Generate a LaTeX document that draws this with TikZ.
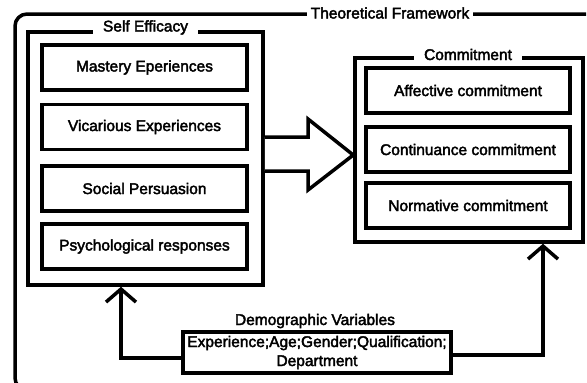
\documentclass[tikz,border=0pt]{standalone}
\usepackage{fontspec}
\setmainfont{Liberation Sans}[BoldFont=Liberation Sans, BoldFeatures={FakeBold=2.5}]
\usetikzlibrary{arrows.meta}

\tikzset{
  txt/.style={font=\fontsize{15.5}{18}\selectfont\bfseries},
  itembox/.style={draw, line width=3.5pt, minimum width=205pt, minimum height=45pt,
                  txt, inner sep=0pt},
  title/.style={fill=white, anchor=base, txt, inner sep=0pt},
  link/.style={line width=3.5pt, line join=miter,
               -{Straight Barb[length=13pt,width=30pt,line width=3.5pt]}},
}

\begin{document}
\begin{tikzpicture}[x=1pt,y=-1pt]
  \useasboundingbox (0,0) rectangle (587,383);

  % outer framework border
  \draw[line width=3.5pt, rounded corners=12pt] (586,14) -- (15,14) -- (15,390) -- (60,390);
  \node[title, inner xsep=4pt] (tf) at (390,18.5) {Theoretical Framework};

  % self efficacy group
  \node[draw, line width=3.5pt, minimum width=235pt, minimum height=253pt] (se) at (145.5,158.5) {};
  \node[title, inner xsep=10pt] (setitle) at (se.north |- 0,31.5) {Self Efficacy};
  \node[itembox] (mastery)   at (144.5,67.5)  {Mastery Eperiences};
  \node[itembox] (vicarious) at (144.5,127)   {Vicarious Experiences};
  \node[itembox] (social)    at (144.5,188.5) {Social Persuasion};
  \node[itembox] (psych)     at (144.5,246.5) {Psychological responses};

  % commitment group
  \node[draw, line width=3.5pt, minimum width=228pt, minimum height=184pt] (com) at (469,150) {};
  \node[title, inner xsep=10pt] (comtitle) at (468,60) {Commitment};
  \node[itembox, minimum width=204pt] (affective)   at (468,90.5)  {Affective commitment};
  \node[itembox, minimum width=204pt] (continuance) at (468,149.5) {Continuance commitment};
  \node[itembox, minimum width=204pt] (normative)   at (468,205.5) {Normative commitment};

  % block arrow from self efficacy to commitment
  \coordinate (tip) at (com.west |- 0,155);
  \draw[line width=3.5pt, line join=miter, fill=white]
    (se.east |- 0,137) -- (308,137) -- (308,119) -- (tip)
    -- (308,190) -- (308,171) -- (se.east |- 0,171);

  % demographic variables
  \node[txt, anchor=base] (demotitle) at (315,325) {Demographic Variables};
  \node[draw, line width=3.5pt, minimum width=268pt, minimum height=41pt, inner sep=0pt,
        align=center, txt, font=\fontsize{15.5}{19}\selectfont\bfseries] (demo) at (317,352.5)
        {Experience;Age;Gender;Qualification;\\Department};

  \draw[link] (demo.west |- 0,358) -| (se.south -| 121,0);
  \draw[link] (demo.east |- 0,355) -| (com.south -| 543,0);
\end{tikzpicture}
\end{document}
